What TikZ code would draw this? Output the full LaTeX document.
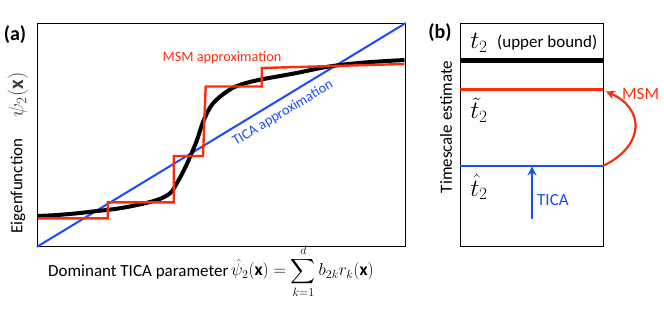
\documentclass[tikz,border=0pt]{standalone}
\usepackage{fontspec}
\setmainfont{Carlito}
\usepackage{amsmath}
\usetikzlibrary{arrows.meta}
\definecolor{cred}{RGB}{250,45,15}
\definecolor{cblue}{RGB}{25,75,250}
\tikzset{
  box/.style={draw, line width=0.8pt, inner sep=0pt, anchor=north west},
  lbl/.style={font=\fontsize{17}{20}\selectfont, inner sep=0pt},
  smlbl/.style={font=\fontsize{14.3}{17}\selectfont, inner sep=0pt},
  panel/.style={font=\bfseries\fontsize{20}{24}\selectfont, inner sep=0pt},
  mathlbl/.style={font=\fontsize{24}{28}\selectfont, inner sep=0pt},
  tip/.style={-{Stealth[length=9pt,width=9pt]}}
}
\begin{document}
\begin{tikzpicture}[x=1pt,y=-1pt]
\useasboundingbox (0,0) rectangle (664,314);
% ---------- panel (a)
\node[panel] (la) at (15,35) {(a)};
\node[box, minimum width=368pt, minimum height=223pt] (boxa) at (37,23) {};
\node[lbl, rotate=90] (eig) at (18,186) {Eigenfunction};
\node[inner sep=0pt, rotate=90, text=black!75, font=\fontsize{21}{24}\selectfont] (psi) at (18,95) {$\psi_2(\mathbf{x})$};
% TICA line
\draw[cblue, line width=2pt] (boxa.south west) -- (boxa.north east);
% black eigenfunction
\draw[line width=4pt] plot[smooth, tension=0.55] coordinates {
 (37.5,216) (57,215) (77,213.3) (97,211) (117,208.7) (137,205) (157,200)
 (170,193.3) (177,183) (184,170) (190,157) (197,140) (203,122) (211,106)
 (220,96.7) (232,88.3) (245,83.3) (262,79.3) (295,73.3) (328,66.7)
 (362,62.7) (404.5,60)};
% red staircase
\draw[cred, line width=2.4pt, line join=miter] (37.5,218.3) -- (107.7,218.3) -- (107.7,202.3) -- (173.7,202.3)
 -- (173.7,156) -- (203,156) -- (205.7,86.5) -- (261.7,86.5) -- (261.7,68) -- (404.5,64);
\node[smlbl, text=cred] (msm) at (222,58) {MSM approximation};
\node[smlbl, text=cblue, rotate=31] (tica) at (283,113) {TICA approximation};
% x-axis label
\node[lbl, anchor=west] (dom) at (48,272) {Dominant TICA parameter};
\node[inner sep=0pt, anchor=west, font=\fontsize{17.5}{21}\selectfont] (form) at (231,271)
 {$\displaystyle \hat{\psi}_2(\mathbf{x}) = \sum_{k=1}^{d} b_{2k} r_k(\mathbf{x})$};
% ---------- panel (b)
\node[panel] (lb) at (440,33) {(b)};
\node[box, minimum width=143pt, minimum height=223pt] (boxb) at (460,23) {};
\node[lbl, rotate=90] (tse) at (446,127) {Timescale estimate};
\coordinate (kL) at (460,60); \coordinate (kR) at (603,60);
\coordinate (rL) at (460,89.5); \coordinate (rR) at (603,89.5);
\coordinate (bL) at (460,166); \coordinate (bR) at (603,166);
\draw[line width=5pt] (kL) -- (kR);
\draw[cred, line width=2.4pt] (rL) -- (rR);
\draw[cblue, line width=2.4pt] (bL) -- (bR);
\node[mathlbl] (t2) at (479,43) {$t_2$};
\node[lbl, anchor=west] (ub) at (497,43) {(upper bound)};
\node[mathlbl] (tt) at (479,110) {$\tilde{t}_2$};
\node[mathlbl] (th) at (479,187) {$\hat{t}_2$};
% TICA arrow
\coordinate (ta) at (532,219);
\coordinate (tb) at (532,166.5);
\draw[cblue, line width=2.4pt, tip] (ta) -- (tb);
\node[lbl, text=cblue, anchor=west] (ticab) at (537,200) {TICA};
% MSM arrow
\coordinate (ma) at (606,91.5);
\draw[cred, line width=2.2pt, tip] (bR) .. controls (646,145) and (644,108) .. (ma);
\node[lbl, text=cred, anchor=west] (msmb) at (622,94) {MSM};
\end{tikzpicture}
\end{document}
